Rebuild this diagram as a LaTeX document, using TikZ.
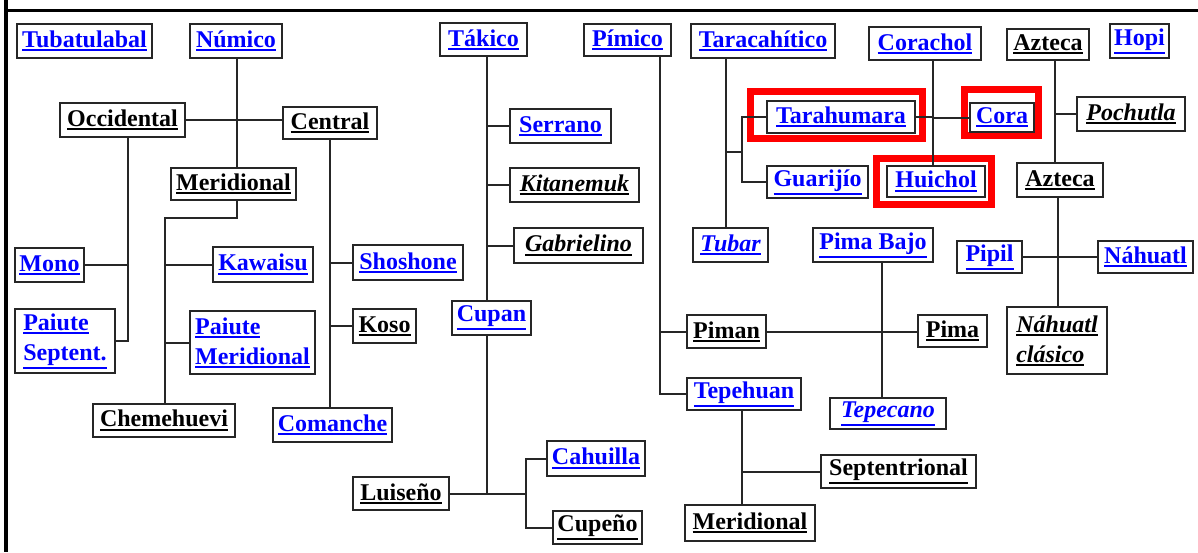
\documentclass[tikz,border=0pt]{standalone}
\usepackage{fontspec}
\setmainfont{Liberation Serif}
\definecolor{lnk}{RGB}{0,0,255}
\newcommand\fsz{\fontsize{24}{30}\selectfont}
% underlined word, rule drawn in the current colour
\newcommand\ul[1]{\leavevmode\vtop{\hbox{#1}\kern1.6pt\hrule height 1.8pt}}
% \bx{style}{name}{x1}{y1}{x2}{y2}{text}: a box given by its corners
\newcommand\bx[7]{\node[#1, minimum width={#5-#3}, minimum height={#6-#4}] (#2) at ({(#3+#5)/2},{(#4+#6)/2}) {#7};}
\begin{document}
\begin{tikzpicture}[x=1pt, y=-1pt,
  box/.style={draw=black!85, line width=2pt, inner sep=0pt, fill=white, font=\fsz\bfseries},
  blu/.style={box, text=lnk},
  blk/.style={box, text=black},
  ital/.style={font=\fsz\bfseries\itshape},
  two/.style={align=left},
  wire/.style={draw=black!85, line width=2pt},
  hl/.style={draw=red, line width=7pt}]
\useasboundingbox (0,0) rectangle (1198,552);
\fill[white] (0,0) rectangle (1198,552);
% frame
\draw[line width=3.6pt] (6,0) -- (6,552);
\draw[line width=3.6pt] (4,10.5) -- (1198,10.5);

% highlight frames
\draw[hl] (750.5,91.5) rectangle (922.5,138.5);
\draw[hl] (876.5,158.5) rectangle (991.5,204.5);
\draw[hl] (964.5,89.5) rectangle (1038.5,135.5);

% ---- boxes ----
\bx{blu}{tub}{17}{24}{152}{58}{\ul{Tubatulabal}}
\bx{blu}{num}{190}{24}{282}{58}{\ul{Númico}}
\bx{blk}{occ}{60}{103}{185}{137}{\ul{Occidental}}
\bx{blk}{cen}{283}{107}{377}{139}{\ul{Central}}
\bx{blk}{mer}{171}{168}{296}{200}{\ul{Meridional}}
\bx{blu}{mono}{15}{248}{84}{282}{\ul{Mono}}
\bx{blu,two}{pse}{15}{309}{115}{373}{\ul{Paiute}\\\ul{Septent.}}
\bx{blu}{kaw}{213}{247}{313}{282}{\ul{Kawaisu}}
\bx{blu,two}{pme}{190}{311}{315}{374}{\ul{Paiute}\\\ul{Meridional}}
\bx{blu}{sho}{353}{245}{463}{280}{\ul{Shoshone}}
\bx{blk}{koso}{353}{309}{416}{343}{\ul{Koso}}
\bx{blk}{che}{93}{404}{235}{437}{\ul{Chemehuevi}}
\bx{blu}{com}{273}{408}{392}{442}{\ul{Comanche}}

\bx{blu}{tak}{440}{23}{527}{56}{\ul{Tákico}}
\bx{blu}{ser}{510}{109}{611}{143}{\ul{Serrano}}
\bx{blk,ital}{kit}{510}{168}{639}{202}{\ul{Kitanemuk}}
\bx{blk,ital}{gab}{514}{228}{643}{263}{\ul{Gabrielino}}
\bx{blu}{cup}{452}{301}{531}{335}{\ul{Cupan}}
\bx{blk}{lui}{353}{477}{449}{510}{\ul{Luiseño}}
\bx{blu}{cah}{547}{441}{645}{476}{\ul{Cahuilla}}
\bx{blk}{cpn}{553}{511}{642}{544}{\ul{Cupeño}}

\bx{blu}{pim}{584}{24}{671}{56}{\ul{Pímico}}
\bx{blk}{piman}{687}{315}{766}{348}{\ul{Piman}}
\bx{blu}{tep}{687}{378}{801}{410}{\ul{Tepehuan}}
\bx{blk}{sep}{821}{455}{976}{488}{\ul{Septentrional}}
\bx{blk}{mer2}{685}{505}{815}{541}{\ul{Meridional}}
\bx{blu}{pbj}{813}{228}{933}{262}{\ul{Pima Bajo}}
\bx{blk}{pima}{918}{315}{987}{347}{\ul{Pima}}
\bx{blu,ital}{tpc}{830}{398}{946}{429}{\ul{Tepecano}}

\bx{blu}{tar}{691}{24}{835}{58}{\ul{Taracahítico}}
\bx{blu}{trh}{767}{101}{915}{133}{\ul{Tarahumara}}
\bx{blu}{gua}{767}{166}{868}{198}{\ul{Guarijío}}
\bx{blu,ital}{tbr}{693}{228}{768}{262}{\ul{Tubar}}
\bx{blu}{cor}{869}{27}{981}{60}{\ul{Corachol}}
\bx{blu}{cora}{970}{103}{1034}{132}{\ul{Cora}}
\bx{blu}{hui}{887}{166}{985}{197}{\ul{Huichol}}

\bx{blk}{azt}{1007}{29}{1089}{60}{\ul{Azteca}}
\bx{blu}{hopi}{1110}{24}{1169}{58}{\ul{Hopi}}
\bx{blk,ital}{poc}{1077}{97}{1185}{131}{\ul{Pochutla}}
\bx{blk}{azt2}{1017}{163}{1103}{197}{\ul{Azteca}}
\bx{blu}{pipil}{957}{241}{1022}{273}{\ul{Pipil}}
\bx{blu}{nah}{1098}{241}{1193}{273}{\ul{Náhuatl}}
\bx{blk,ital,two}{ncl}{1007}{307}{1107}{374}{\ul{Náhuatl}\\\ul{clásico}}

% ---- trunk points ----
\coordinate (numT) at (237,58);
\coordinate (occT) at (128,137);
\coordinate (merT) at (237,200);
\coordinate (merJ) at (165,218);
\coordinate (cenT) at (330,139);
\coordinate (takT) at (487,56);
\coordinate (cupJ) at (526,493);
\coordinate (pimT) at (660,56);
\coordinate (pbjT) at (882,262);
\coordinate (tepT) at (742,410);
\coordinate (tarT) at (726,58);
\coordinate (tarJ) at (742,152);
\coordinate (corT) at (933,60);
\coordinate (aztT) at (1055,60);
\coordinate (azt2T) at (1058,197);

% ---- connectors ----
% Numic
\draw[wire] (numT) -- (numT |- mer.north);
\draw[wire] (occ.east) -- (occ.east -| cen.west);
\draw[wire] (occT) |- (pse.east);
\draw[wire] (mono.east) -- (mono.east -| occT);
\draw[wire] (merT) |- (merJ) -- (merJ |- che.north);
\draw[wire] (kaw.west) -- (kaw.west -| merJ);
\draw[wire] (pme.west) -- (pme.west -| merJ);
\draw[wire] (cenT) -- (cenT |- com.north);
\draw[wire] (sho.west) -- (sho.west -| cenT);
\draw[wire] (koso.west) -- (koso.west -| cenT);
% Takic
\draw[wire] (takT) -- (takT |- cup.north);
\draw[wire] (ser.west) -- (ser.west -| takT);
\draw[wire] (kit.west) -- (kit.west -| takT);
\draw[wire] (gab.west) -- (gab.west -| takT);
\draw[wire] (cup.south -| takT) -- (takT |- lui.east);
\draw[wire] (lui.east) -- (lui.east -| cupJ);
\draw[wire] (cah.west) -- (cah.west -| cupJ) -- (cupJ |- cpn.west) -- (cpn.west);
% Piman
\draw[wire] (pimT) |- (tep.west);
\draw[wire] (piman.west) -- (piman.west -| pimT);
\draw[wire] (piman.east) -- (piman.east -| pima.west);
\draw[wire] (pbjT) -- (pbjT |- tpc.north);
\draw[wire] (tepT) -- (tepT |- mer2.north);
\draw[wire] (sep.west) -- (sep.west -| tepT);
% Taracahitic and Corachol
\draw[wire] (tarT) -- (tarT |- tbr.north);
\draw[wire] (tarT |- tarJ) -- (tarJ);
\draw[wire] (trh.west) -- (trh.west -| tarJ) -- (tarJ |- gua.west) -- (gua.west);
\draw[wire] (corT) -- (corT |- hui.north);
\draw[wire] (trh.east) -- (trh.east -| corT);
\draw[wire] (cora.west) -- (cora.west -| corT);
% Aztecan
\draw[wire] (aztT) -- (aztT |- azt2.north);
\draw[wire] (poc.west) -- (poc.west -| aztT);
\draw[wire] (azt2T) -- (azt2T |- ncl.north);
\draw[wire] (pipil.east) -- (nah.west);
\end{tikzpicture}
\end{document}
